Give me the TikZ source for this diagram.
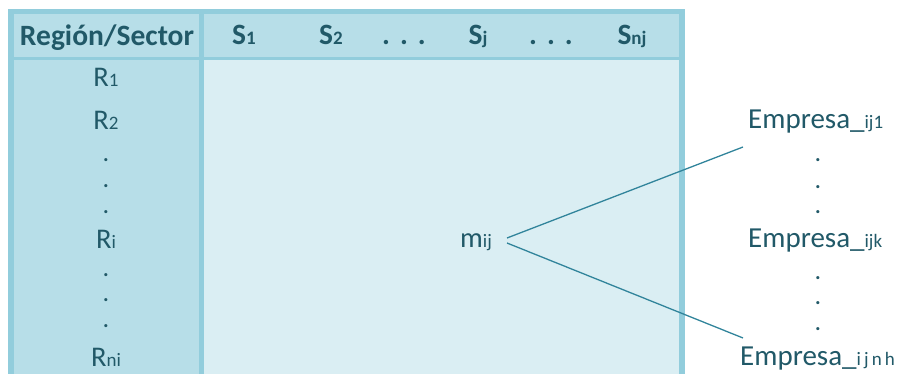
\documentclass[tikz,border=0pt]{standalone}
\usepackage{fontspec}
\setmainfont{Carlito}
\definecolor{gridline}{HTML}{92CDDC}
\definecolor{headfill}{HTML}{B7DEE8}
\definecolor{bodyfill}{HTML}{DAEEF3}
\definecolor{ink}{HTML}{215968}
\definecolor{link}{HTML}{31849B}
\newcommand\lowidx[1]{{\fontsize{19}{19}\selectfont #1}}
\tikzset{
  lbl/.style={anchor=base, inner sep=0pt, text=ink, font=\fontsize{28.5}{28.5}\selectfont},
  vdot/.style={lbl, font=\fontsize{21}{21}\selectfont\bfseries, text height=3pt, text depth=0pt},
  hdr/.style={lbl, font=\fontsize{29.5}{29.5}\selectfont\bfseries},
  firm/.style={lbl, anchor=base west, font=\fontsize{29}{29}\selectfont},
  conn/.style={draw=link, line width=1.3pt}
}
\begin{document}
\begin{tikzpicture}[x=1pt, y=-1pt]
  \useasboundingbox (0,0) rectangle (901,374);
  % table frame and cells
  \fill[gridline] (8,9) rectangle (685,374);
  \fill[headfill] (14,14) rectangle (679,57);
  \fill[headfill] (14,60) rectangle (199,374);
  \fill[bodyfill] (204,60) rectangle (679,374);
  \fill[gridline] (199,14) rectangle (204,374);
  % header row
  \node[hdr] (hrs) at (107,46) {Región/Sector};
  \node[hdr] (s1) at (244,45) {S\lowidx{1}};
  \node[hdr] (s2) at (331,45) {S\lowidx{2}};
  \node[hdr] (hd1) at (404,45) {.\hspace{10pt}.\hspace{10pt}.};
  \node[hdr] (sj) at (478,45) {S\lowidx{j}};
  \node[hdr] (hd2) at (551,45) {.\hspace{10pt}.\hspace{10pt}.};
  \node[hdr] (snj) at (632,45) {S\lowidx{nj}};
  % region column
  \node[lbl] (r1) at (106,87) {R\lowidx{1}};
  \node[lbl] (r2) at (106,130) {R\lowidx{2}};
  \node[vdot] (rd1) at (106,161.5) {.};
  \node[vdot] (rd2) at (106,187.5) {.};
  \node[vdot] (rd3) at (106,213.5) {.};
  \node[lbl] (ri) at (106,248) {R\lowidx{i}};
  \node[vdot] (rd4) at (106,276.5) {.};
  \node[vdot] (rd5) at (106,301.5) {.};
  \node[vdot] (rd6) at (106,327.5) {.};
  \node[lbl] (rni) at (106,366) {R\lowidx{ni}};
  % cell value
  \node[lbl] (mij) at (476,247) {m\lowidx{ij}};
  % firms list
  \node[firm] (e1) at (748,129) {Empresa\_\lowidx{ij1}};
  \node[vdot] (ed1) at (818,161.5) {.};
  \node[vdot] (ed2) at (818,188.5) {.};
  \node[vdot] (ed3) at (818,213.5) {.};
  \node[firm] (ek) at (748,247) {Empresa\_\lowidx{ijk}};
  \node[vdot] (ed4) at (818,279.5) {.};
  \node[vdot] (ed5) at (818,304.5) {.};
  \node[vdot] (ed6) at (818,330.5) {.};
  \node[firm] (eh) at (740,365) {Empresa\_\lowidx{i\,j\,n\,h}};
  % connectors from the cell to the firms
  \coordinate (mtop) at (507,238);
  \coordinate (mbot) at (507,243);
  \coordinate (etop) at (743,147);
  \coordinate (ebot) at (743,338);
  \draw[conn] (mtop) -- (etop);
  \draw[conn] (mbot) -- (ebot);
\end{tikzpicture}
\end{document}
